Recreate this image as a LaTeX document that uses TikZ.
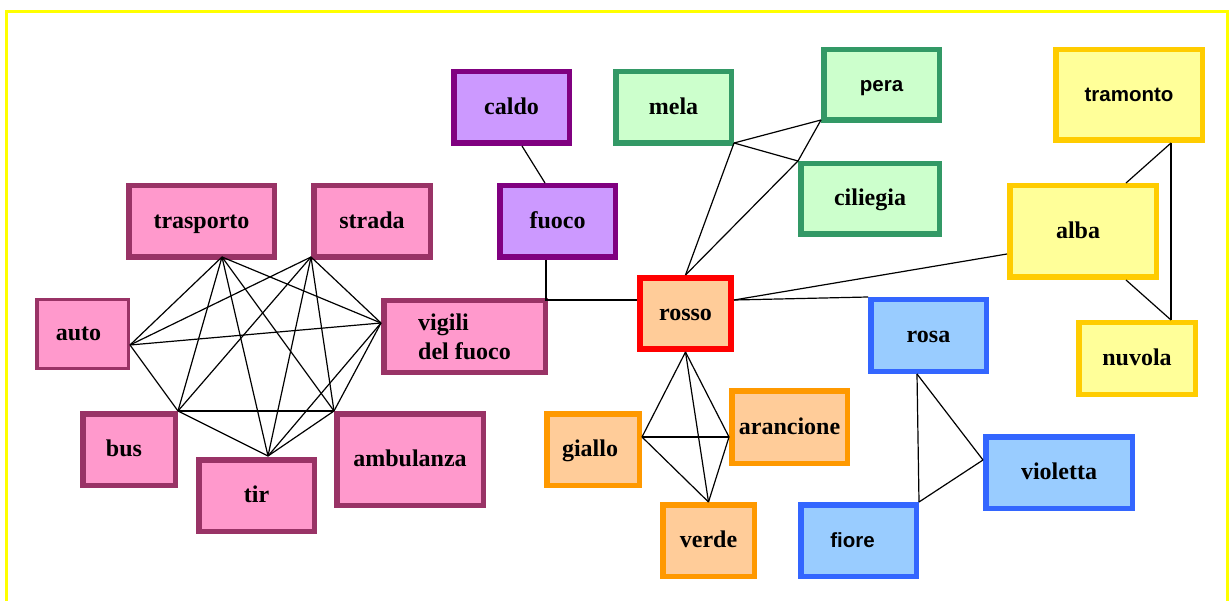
\documentclass[tikz,border=0pt]{standalone}
\usepackage{fontspec}
\setmainfont{Liberation Serif}
\newfontfamily\sansf{Liberation Sans}
\usetikzlibrary{calc}
\definecolor{pinkfill}{HTML}{FF99CC}
\definecolor{pinkline}{HTML}{993366}
\definecolor{purpfill}{HTML}{CC99FF}
\definecolor{purpline}{HTML}{800080}
\definecolor{greenfill}{HTML}{CCFFCC}
\definecolor{greenline}{HTML}{339966}
\definecolor{orfill}{HTML}{FFCC99}
\definecolor{orline}{HTML}{FF9900}
\definecolor{redline}{HTML}{FF0000}
\definecolor{bluefill}{HTML}{99CCFF}
\definecolor{blueline}{HTML}{3366FF}
\definecolor{yelfill}{HTML}{FFFF99}
\definecolor{yelline}{HTML}{FFCC00}
\definecolor{frameyel}{HTML}{FFFF00}
\begin{document}
\begin{tikzpicture}[x=1pt,y=-1pt,
  cbox/.style={rectangle, draw, inner sep=0pt, line width=5.5pt, align=center,
    text height=19pt, text depth=5pt,
    font=\fontsize{24}{28.8}\selectfont\bfseries},
  sanslbl/.style={font=\sansf\fontsize{20.5}{24}\selectfont\bfseries},
  pinkbox/.style={cbox, draw=pinkline, fill=pinkfill},
  purpbox/.style={cbox, draw=purpline, fill=purpfill},
  greenbox/.style={cbox, draw=greenline, fill=greenfill},
  orbox/.style={cbox, draw=orline, fill=orfill},
  redbox/.style={cbox, draw=redline, fill=orfill, line width=6pt},
  bluebox/.style={cbox, draw=blueline, fill=bluefill},
  yelbox/.style={cbox, draw=yelline, fill=yelfill},
  link/.style={draw=black, line width=1.2pt}]
\useasboundingbox (0,0) rectangle (1231,601);
\draw[frameyel, line width=3pt] (6.5,601) -- (6.5,11.5) -- (1227.5,11.5) -- (1227.5,601);

% purple
\node[purpbox, minimum width=115.5pt, minimum height=71.5pt] (caldo) at (511.5,107.5) {caldo};
\node[purpbox, minimum width=115.5pt, minimum height=71.5pt] (fuoco) at (557.5,221.5) {fuoco};
% pink
\node[pinkbox, minimum width=145.5pt, minimum height=71.5pt] (trasporto) at (201.5,221.5) {trasporto};
\node[pinkbox, minimum width=116.5pt, minimum height=71.5pt] (strada) at (372,221.5) {strada};
\node[pinkbox, line width=3.5pt, minimum width=91.5pt, minimum height=68.5pt] (auto) at (82.5,334) {\hspace*{-8pt}auto};
\node[pinkbox, text height=, text depth=, minimum width=161.5pt, minimum height=71.5pt, align=left] (vigili) at (464.5,336.5) {vigili\\del fuoco};
\node[pinkbox, minimum width=92.5pt, minimum height=71.5pt] (bus) at (129,449.5) {\hspace*{-10pt}bus};
\node[pinkbox, minimum width=115.5pt, minimum height=71.5pt] (tir) at (256.5,495.5) {tir};
\node[pinkbox, minimum width=146.5pt, minimum height=91.5pt] (ambulanza) at (410,459.5) {ambulanza};
% green
\node[greenbox, minimum width=115.5pt, minimum height=71.5pt] (mela) at (673.5,107.5) {mela};
\node[greenbox, sanslbl, minimum width=115.5pt, minimum height=70.5pt] (pera) at (881.5,85) {pera};
\node[greenbox, minimum width=138.5pt, minimum height=70.5pt] (ciliegia) at (870,199) {ciliegia};
% red / orange
\node[redbox, minimum width=91pt, minimum height=71pt] (rosso) at (685.5,313.5) {rosso};
\node[orbox, minimum width=92.5pt, minimum height=71.5pt] (giallo) at (593,449.5) {\hspace*{-6pt}giallo};
\node[orbox, minimum width=115.5pt, minimum height=72.5pt] (arancione) at (789.5,427) {arancione};
\node[orbox, minimum width=91.5pt, minimum height=71.5pt] (verde) at (708.5,540.5) {verde};
% blue
\node[bluebox, minimum width=115.5pt, minimum height=71.5pt] (rosa) at (928.5,335.5) {rosa};
\node[bluebox, minimum width=146.5pt, minimum height=71.5pt] (violetta) at (1059,472.5) {violetta};
\node[bluebox, sanslbl, minimum width=115.5pt, minimum height=71.5pt] (fiore) at (858.5,540.5) {\hspace*{-12pt}fiore};
% yellow
\node[yelbox, sanslbl, minimum width=146.5pt, minimum height=90.5pt] (tramonto) at (1129,95) {tramonto};
\node[yelbox, minimum width=146.5pt, minimum height=91.5pt] (alba) at (1083,231.5) {\hspace*{-10pt}alba};
\node[yelbox, minimum width=116.5pt, minimum height=71.5pt] (nuvola) at (1137,358.5) {nuvola};

% attachment points
\coordinate (hT) at ($(trasporto.south)+(20.5,-3)$);
\coordinate (hS) at ($(strada.south west)+(0,-3)$);
\coordinate (hA) at ($(auto.east)+(0,11)$);
\coordinate (hV) at ($(vigili.west)+(0,-13.5)$);
\coordinate (hB) at (bus.north east);
\coordinate (hM) at (ambulanza.north west);
\coordinate (hR) at ($(tir.north)+(11.5,-1)$);
\coordinate (hCa) at ($(caldo.south)+(10.5,0)$);
\coordinate (hFn) at ($(fuoco.north)+(-12.5,0)$);
\coordinate (hFs) at ($(fuoco.south)+(-11.5,0)$);
\coordinate (hRw) at ($(rosso.west)+(0,-13.5)$);
\coordinate (hRe) at ($(rosso.east)+(0,-13.5)$);
\coordinate (hMe) at ($(mela.south east)+(0,-3)$);
\coordinate (hPe) at ($(pera.south west)+(0,-3)$);
\coordinate (hCi) at (ciliegia.north west);
\coordinate (hAw) at ($(alba.west)+(0,22.5)$);
\coordinate (hTr) at ($(tramonto.south)+(42,0)$);
\coordinate (hAn) at ($(alba.north)+(43,0)$);
\coordinate (hAs) at ($(alba.south)+(43,0)$);
\coordinate (hNu) at ($(nuvola.north)+(34,0)$);
\coordinate (hGi) at ($(giallo.east)+(0,-12.5)$);
\coordinate (hAr) at ($(arancione.west)+(0,10)$);
\coordinate (hRo) at ($(rosa.south)+(-11.5,0)$);
\coordinate (hVi) at ($(violetta.west)+(0,-12.5)$);

% vehicle cluster
\foreach \a/\b in {hT/hA,hT/hB,hT/hR,hT/hM,hT/hV,hS/hA,hS/hB,hS/hR,hS/hM,hS/hV,hA/hB,hA/hV,hB/hM,hB/hR,hR/hM,hR/hV,hM/hV}
  \draw[link] (\a) -- (\b);
% fire
\draw[link] (hCa) -- (hFn);
\draw[link] (hFs) |- (hRw);
% fruits
\draw[link] (rosso.north) -- (hMe);
\draw[link] (rosso.north) -- (hCi);
\draw[link] (hMe) -- (hPe);
\draw[link] (hMe) -- (hCi);
\draw[link] (hCi) -- (hPe);
% sky
\draw[link] (hRe) -- (hAw);
\draw[link] (hTr) -- (hAn);
\draw[link] (hTr) -- (hNu);
\draw[link] (hAs) -- (hNu);
% colours
\draw[link] (hRe) -- (rosa.north west);
\draw[link] (rosso.south) -- (hGi);
\draw[link] (rosso.south) -- (hAr);
\draw[link] (rosso.south) -- (verde.north);
\draw[link] (hGi) -- (hAr);
\draw[link] (hGi) -- (verde.north);
\draw[link] (hAr) -- (verde.north);
% flowers
\draw[link] (hRo) -- (fiore.north east);
\draw[link] (hRo) -- (hVi);
\draw[link] (hVi) -- (fiore.north east);
\end{tikzpicture}
\end{document}
